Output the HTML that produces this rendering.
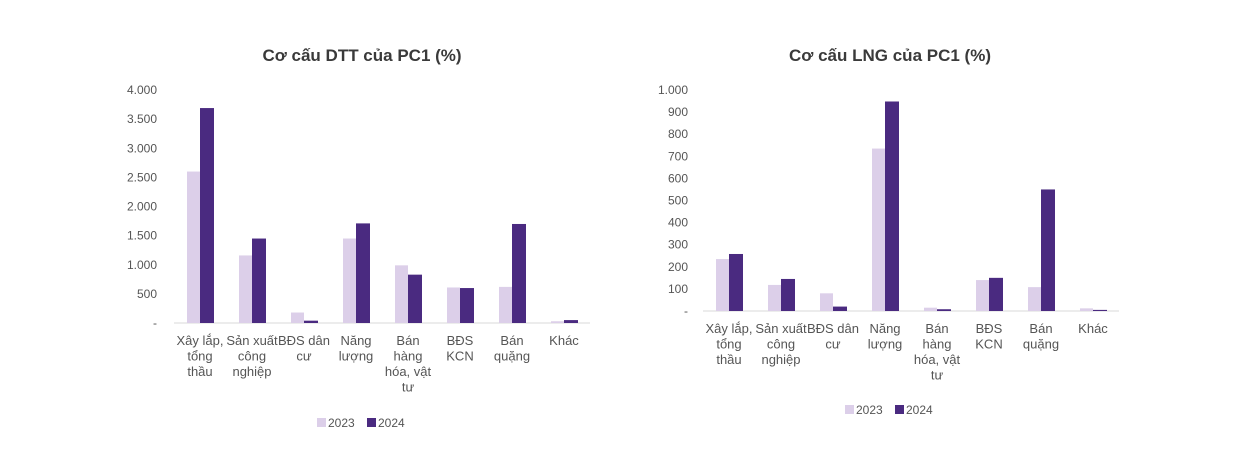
<!DOCTYPE html>
<html><head><meta charset="utf-8"><style>
body{margin:0;background:#fff;width:1242px;height:460px;overflow:hidden;font-family:"Liberation Sans",sans-serif}
</style></head><body>
<svg id="svg" width="1242" height="460"></svg>
<script>
const categories=[["Xây lắp,","tổng","thầu"],["Sản xuất","công","nghiệp"],["BĐS dân","cư"],["Năng","lượng"],["Bán","hàng","hóa, vật","tư"],["BĐS","KCN"],["Bán","quặng"],["Khác"]];
const dtt2023=[2600,1160,180,1450,990,610,620,30];
const dtt2024=[3690,1450,40,1710,830,600,1700,50];
const dttTicks=["-","500","1.000","1.500","2.000","2.500","3.000","3.500","4.000"];
const dttTickVals=[0,500,1000,1500,2000,2500,3000,3500,4000];
const lng2023=[235,118,80,735,15,140,108,12];
const lng2024=[258,145,20,948,8,150,550,5];
const lngTicks=["-","100","200","300","400","500","600","700","800","900","1.000"];
const lngTickVals=[0,100,200,300,400,500,600,700,800,900,1000];
const NS="http://www.w3.org/2000/svg";
const svg=document.getElementById('svg');
function mk(t,a,txt){const e=document.createElementNS(NS,t);for(const k in a)e.setAttribute(k,a[k]);if(txt!=null)e.textContent=txt;svg.appendChild(e);return e;}
function chart(o){
  const y=v=>o.y0-(v/o.max)*(o.y0-o.yTop);
  const x=i=>o.x0+o.step*(i+0.5);
  let t=mk('text',{x:o.cx,y:61,'text-anchor':'middle','font-size':17,'font-weight':'bold',fill:'#3a3a3a'},o.title);
  
  
  o.tickVals.forEach((v,i)=>{
    const l=mk('text',{x:o.labX,y:y(v)+4,'text-anchor':'end','font-size':12,fill:'#555'},o.ticks[i]);
    
    
  });
  const ax=mk('line',{x1:o.x0,x2:o.x0+o.step*8,y1:o.y0,y2:o.y0,stroke:'#d9d9d9','stroke-width':1});
  
  
  categories.forEach((c,i)=>{
    const cx=x(i);
    const a=mk('rect',{x:cx-13,y:y(o.a[i]),width:13,height:o.y0-y(o.a[i]),fill:'#dccfe9'});
    
    
    const b=mk('rect',{x:cx,y:y(o.b[i]),width:14,height:o.y0-y(o.b[i]),fill:'#4a2a80'});
    
    
    c.forEach((s,j)=>{
      const l=mk('text',{x:cx,y:o.y0+22+j*15.5,'text-anchor':'middle','font-size':13,fill:'#555'},s);
      
      
    });
  });
  const ly=o.legY;
  let r=mk('rect',{x:o.cx-45,y:ly-9,width:9,height:9,fill:'#dccfe9'});
  
  let lt=mk('text',{x:o.cx-34,y:ly,'font-size':12,fill:'#555'},'2023');
  
  r=mk('rect',{x:o.cx+5,y:ly-9,width:9,height:9,fill:'#4a2a80'});
  
  lt=mk('text',{x:o.cx+16,y:ly,'font-size':12,fill:'#555'},'2024');
  
}
chart({id:'dtt',title:'Cơ cấu DTT của PC1 (%)',cx:362,x0:174,step:52,y0:323,yTop:90,max:4000,labX:157,ticks:dttTicks,tickVals:dttTickVals,a:dtt2023,b:dtt2024,legY:427});
chart({id:'lng',title:'Cơ cấu LNG của PC1 (%)',cx:890,x0:703,step:52,y0:311,yTop:90,max:1000,labX:688,ticks:lngTicks,tickVals:lngTickVals,a:lng2023,b:lng2024,legY:414});
</script>
</body></html>
